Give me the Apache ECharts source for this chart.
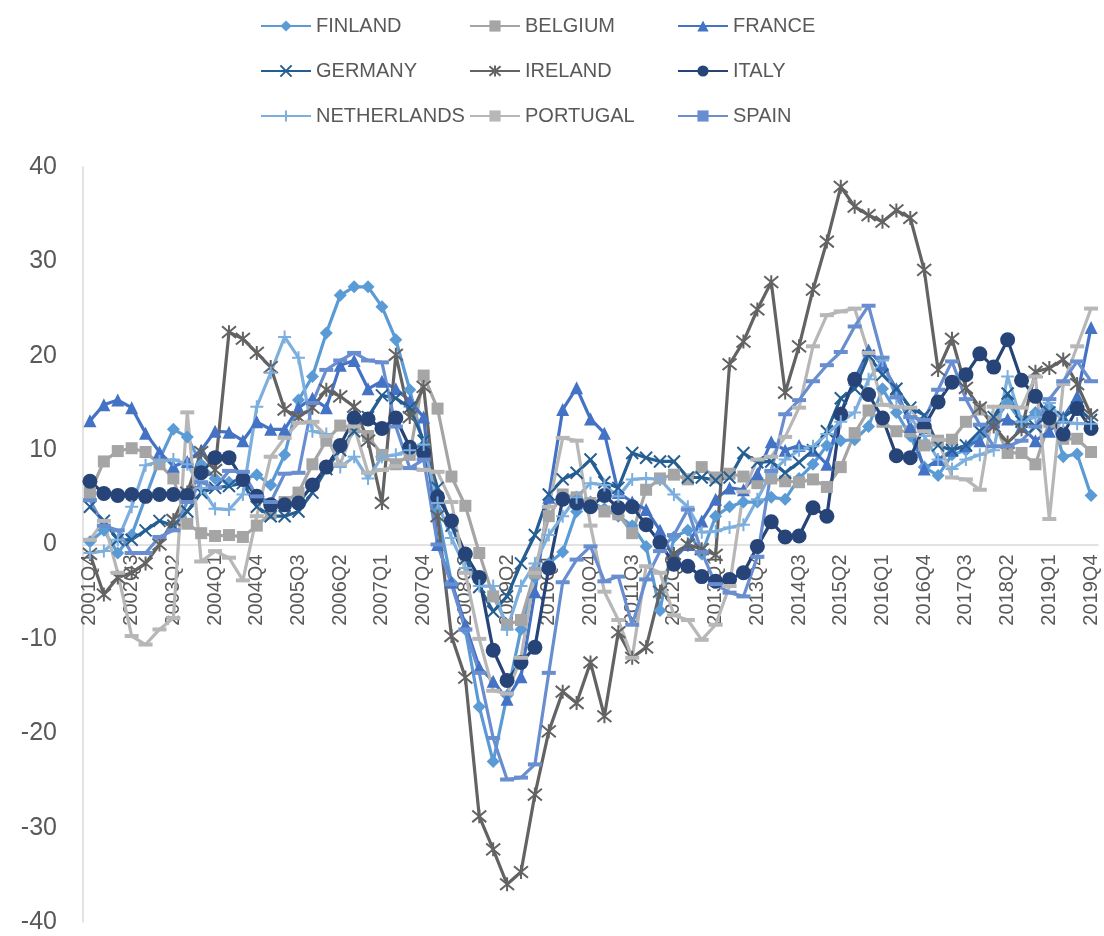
<!DOCTYPE html>
<html>
<head>
<meta charset="utf-8">
<script src="https://cdn.jsdelivr.net/npm/echarts@6/dist/echarts.min.js"></script>
<style>
html,body{margin:0;padding:0;background:#fff;}
#chart{width:1104px;height:936px;}
</style>
</head>
<body>
<div id="chart"></div>
<script>
const categories = ["2001Q4",
"2002Q1","2002Q2","2002Q3","2002Q4","2003Q1","2003Q2","2003Q3","2003Q4",
"2004Q1","2004Q2","2004Q3","2004Q4","2005Q1","2005Q2","2005Q3","2005Q4",
"2006Q1","2006Q2","2006Q3","2006Q4","2007Q1","2007Q2","2007Q3","2007Q4",
"2008Q1","2008Q2","2008Q3","2008Q4","2009Q1","2009Q2","2009Q3","2009Q4",
"2010Q1","2010Q2","2010Q3","2010Q4","2011Q1","2011Q2","2011Q3","2011Q4",
"2012Q1","2012Q2","2012Q3","2012Q4","2013Q1","2013Q2","2013Q3","2013Q4",
"2014Q1","2014Q2","2014Q3","2014Q4","2015Q1","2015Q2","2015Q3","2015Q4",
"2016Q1","2016Q2","2016Q3","2016Q4","2017Q1","2017Q2","2017Q3","2017Q4",
"2018Q1","2018Q2","2018Q3","2018Q4","2019Q1","2019Q2","2019Q3","2019Q4"];

const finland = [
0.3, 1.5, -0.9, 1.0, 5.0, 9.0, 12.2, 11.4, 8.5, 7.0,
6.6, 6.9, 7.4, 6.3, 9.5, 15.3, 17.8, 22.4, 26.4, 27.3,
27.3, 25.2, 21.7, 16.4, 10.5, 3.5, -4.0, -9.0, -17.2, -23.0,
-16.0, -9.0, -3.5, -2.0, -0.8, 3.5, 4.5, 3.8, 3.0, 2.0,
-0.2, -7.0, 0.8, 1.5, -1.0, 3.0, 4.0, 4.5, 4.5, 5.0,
4.8, 7.0, 8.5, 10.5, 11.0, 11.1, 12.5, 16.5, 14.0, 11.5,
8.2, 7.3, 9.5, 10.0, 11.5, 13.0, 15.0, 13.0, 14.0, 14.5,
9.3, 9.6, 5.2];

const belgium = [
5.5, 8.8, 9.9, 10.2, 9.8, 8.5, 7.0, 2.2, 1.2, 0.9,
1.0, 0.8, 2.0, 3.3, 4.5, 5.5, 8.5, 11.0, 12.6, 12.4,
11.5, 9.5, 8.5, 9.5, 17.9, 14.4, 7.2, 4.1, -0.9, -5.5,
-8.5, -8.0, -3.0, 3.0, 5.3, 5.0, 4.4, 3.5, 3.2, 1.2,
5.8, 7.0, 7.4, 6.9, 8.2, 7.1, 7.5, 7.2, 6.5, 7.0,
6.7, 6.6, 6.9, 6.1, 8.2, 11.8, 14.2, 13.0, 12.0, 12.0,
10.5, 11.0, 11.1, 13.0, 14.3, 13.0, 9.7, 9.7, 8.5, 13.0,
11.2, 11.2, 9.8];

const france = [
13.1, 14.8, 15.3, 14.5, 11.8, 9.8, 8.3, 8.8, 10.0, 12.0,
11.9, 11.0, 13.0, 12.2, 12.2, 14.5, 15.5, 14.5, 19.0, 19.5,
16.5, 17.3, 16.5, 15.2, 13.5, 0.0, -4.0, -8.5, -13.0, -14.5,
-16.4, -14.0, -5.0, 5.0, 14.3, 16.6, 13.3, 11.8, 5.5, 4.5,
3.7, 1.5, -1.5, 0.0, 2.5, 4.8, 6.0, 5.8, 7.5, 10.9,
10.0, 10.5, 10.0, 8.5, 14.0, 17.5, 20.6, 19.0, 16.5, 12.5,
8.0, 9.0, 10.0, 10.5, 11.0, 13.0, 13.3, 12.5, 11.0, 12.0,
13.5, 15.7, 23.0];

const germany = [
4.0, 2.5, 0.5, 0.5, 1.5, 2.5, 2.0, 3.5, 5.5, 6.0,
6.2, 6.5, 4.0, 3.0, 3.0, 3.5, 5.5, 8.0, 10.0, 12.0,
13.5, 15.8, 15.5, 14.5, 11.0, 6.0, 2.0, -1.5, -4.5, -7.1,
-5.5, -2.0, 1.0, 5.3, 6.9, 7.6, 9.0, 6.6, 6.0, 9.7,
9.2, 8.8, 8.8, 7.1, 7.1, 6.8, 7.1, 9.7, 8.7, 8.8,
7.6, 8.7, 10.0, 12.0, 15.5, 16.5, 20.0, 18.0, 16.5, 14.5,
13.7, 10.5, 10.0, 10.5, 12.0, 13.5, 16.0, 13.0, 12.5, 14.0,
13.5, 14.5, 13.2];

const ireland = [
-1.0, -5.3, -3.5, -3.0, -2.0, 0.0, 2.6, 5.5, 9.8, 7.9,
22.5, 21.8, 20.3, 18.8, 14.3, 13.5, 14.5, 16.4, 15.7, 14.6,
11.0, 4.4, 20.1, 13.5, 16.7, 3.0, -9.7, -14.1, -28.8, -32.3,
-36.0, -34.7, -26.5, -19.8, -15.6, -16.8, -12.5, -18.2, -9.3, -12.0,
-10.9, -5.0, -1.0, 0.0, -0.5, -1.1, 19.1, 21.5, 24.9, 27.8,
16.1, 21.0, 27.0, 32.1, 37.9, 35.8, 34.9, 34.2, 35.4, 34.6,
29.1, 18.5, 21.8, 16.6, 14.5, 12.5, 10.8, 12.2, 18.3, 18.7,
19.6, 17.0, 13.7];

const italy = [
6.7, 5.4, 5.2, 5.3, 5.1, 5.3, 5.3, 5.2, 7.6, 9.2,
9.2, 6.9, 5.1, 4.2, 4.2, 4.4, 6.3, 8.2, 10.5, 13.4,
13.3, 12.3, 13.4, 10.3, 9.7, 5.0, 2.5, -1.0, -3.5, -11.2,
-14.4, -12.5, -10.9, -2.5, 4.8, 4.4, 4.0, 5.2, 3.9, 4.0,
2.1, 0.2, -2.1, -2.3, -3.4, -3.9, -3.7, -3.0, -0.2, 2.4,
0.8, 0.9, 3.9, 3.0, 13.8, 17.5, 15.9, 13.4, 9.4, 9.2,
12.5, 15.1, 17.2, 18.0, 20.2, 18.8, 21.7, 17.4, 15.7, 13.4,
11.7, 14.4, 12.3];

const netherlands = [
-0.9, -0.7, 0.5, 4.0, 8.4, 8.8, 9.0, 8.5, 6.0, 3.8,
3.7, 5.3, 14.6, 18.2, 22.0, 19.8, 12.0, 11.7, 8.2, 9.3,
7.0, 9.3, 9.5, 10.0, 10.6, 4.4, 0.7, -2.5, -4.4, -4.4,
-9.0, -4.4, -2.0, 1.0, 3.0, 5.0, 6.5, 6.3, 5.1, 6.9,
7.0, 6.9, 5.3, 4.0, 1.3, 1.4, 1.8, 2.1, 4.8, 7.6,
9.0, 10.0, 10.4, 11.7, 13.0, 14.0, 17.5, 19.5, 15.5, 13.5,
11.5, 9.0, 8.0, 9.0, 9.5, 10.0, 17.8, 13.0, 13.5, 15.0,
13.0, 12.8, 12.8];

const portugal = [
0.5, 2.5, -3.0, -9.7, -10.6, -9.0, -7.8, 14.0, -1.8, -0.7,
-1.4, -3.8, 3.0, 9.3, 11.3, 12.9, 13.0, 11.5, 8.5, 12.5,
7.6, 7.9, 8.3, 8.1, 7.9, 7.7, 4.5, -3.0, -10.0, -15.5,
-15.8, -12.0, -3.0, 4.0, 11.3, 11.0, 2.0, -5.0, -8.0, -12.0,
-2.3, -3.0, -7.5, -8.0, -10.1, -8.5, -4.4, 5.6, 9.0, 9.3,
11.4, 14.5, 21.0, 24.3, 24.7, 25.0, 20.3, 14.8, 14.6, 14.5,
12.0, 11.1, 7.1, 6.9, 5.8, 14.6, 14.6, 14.5, 17.8, 2.7,
17.0, 21.0, 25.0];

const spain = [
4.7, 2.0, 1.5, -0.9, -0.9, 0.8, 1.5, 4.5, 6.6, 6.0,
7.8, 7.7, 5.1, 4.5, 7.5, 7.6, 15.0, 18.5, 19.5, 20.3,
19.5, 19.3, 12.5, 8.1, 9.0, 0.0, -4.2, -9.0, -13.6, -20.5,
-24.9, -24.7, -23.3, -13.6, -4.0, -1.6, -0.2, -3.9, -3.4, -8.5,
-3.7, -0.7, 1.0, 3.7, -0.8, -4.2, -5.1, -5.5, -1.3, 7.8,
13.8, 15.3, 17.3, 19.0, 20.4, 23.1, 25.3, 19.8, 15.6, 13.5,
13.2, 16.4, 19.4, 15.4, 12.7, 10.4, 10.4, 11.0, 12.5, 15.4,
17.3, 19.4, 17.3];

const FONT = "'Liberation Sans', Arial, sans-serif";
const X_PATH = 'path://M0,0L10,10M10,0L0,10';
const STAR_PATH = 'path://M0,0L10,10M10,0L0,10M5,-1L5,11';
const PLUS_PATH = 'path://M5,0L5,10M0,5L10,5';

function mk(name, data, color, symbol, size, stroke) {
  return {
    name: name, type: 'line', data: data,
    symbol: symbol, symbolSize: size, showSymbol: true, showAllSymbol: true,
    lineStyle: { color: color, width: 3.2 },
    itemStyle: stroke ? { color: color, borderColor: color, borderWidth: 2 } : { color: color, borderWidth: 0 },
    emphasis: { disabled: true },
    animation: false
  };
}

const series = [
  mk('FINLAND', finland, '#5B9BD5', 'diamond', 13, false),
  mk('BELGIUM', belgium, '#A5A5A5', 'rect', 12, false),
  mk('FRANCE', france, '#4472C4', 'triangle', 13, false),
  mk('GERMANY', germany, '#255E91', X_PATH, 12, true),
  mk('IRELAND', ireland, '#636363', STAR_PATH, 14, true),
  mk('ITALY', italy, '#264478', 'circle', 15, false),
  mk('NETHERLANDS', netherlands, '#7CAFDD', PLUS_PATH, 13, true),
  mk('PORTUGAL', portugal, '#B7B7B7', 'rect', [14, 4], false),
  mk('SPAIN', spain, '#698ED0', 'rect', [14, 4], false)
];

function legendCol(left, names) {
  return {
    orient: 'vertical', left: left, top: 11, itemGap: 25,
    itemWidth: 50, itemHeight: 14, selectedMode: false,
    textStyle: { color: '#595959', fontSize: 20, fontFamily: FONT },
    data: names
  };
}

const GRID_TOP = 167, GRID_BOTTOM = 14, Y_MIN = -40, Y_MAX = 40;
const plotH = 936 - GRID_TOP - GRID_BOTTOM;
const zeroOffset = -plotH * (0 - Y_MIN) / (Y_MAX - Y_MIN);

const chart = echarts.init(document.getElementById('chart'), null, { renderer: 'canvas' });
chart.setOption({
  backgroundColor: '#ffffff',
  animation: false,
  legend: [
    legendCol(255, ['FINLAND', 'GERMANY', 'NETHERLANDS']),
    legendCol(464, ['BELGIUM', 'IRELAND', 'PORTUGAL']),
    legendCol(672, ['FRANCE', 'ITALY', 'SPAIN'])
  ],
  grid: { left: 83, right: 6, top: GRID_TOP, bottom: GRID_BOTTOM, containLabel: false, outerBoundsMode: 'none' },
  xAxis: {
    type: 'category', data: categories, boundaryGap: true, position: 'bottom',
    offset: zeroOffset,
    axisLine: { onZero: false, lineStyle: { color: '#D9D9D9', width: 1.5 } },
    axisTick: { show: false },
    splitLine: { show: false },
    axisLabel: { interval: 2, rotate: 90, fontSize: 20, color: '#595959', fontFamily: FONT, margin: 10 }
  },
  yAxis: {
    type: 'value', min: Y_MIN, max: Y_MAX, interval: 10,
    axisLine: { show: true, lineStyle: { color: '#D9D9D9', width: 1.5 } },
    axisTick: { show: false },
    splitLine: { show: false },
    axisLabel: { fontSize: 25, color: '#595959', fontFamily: FONT, margin: 26 }
  },
  series: series
});
</script>
</body>
</html>
